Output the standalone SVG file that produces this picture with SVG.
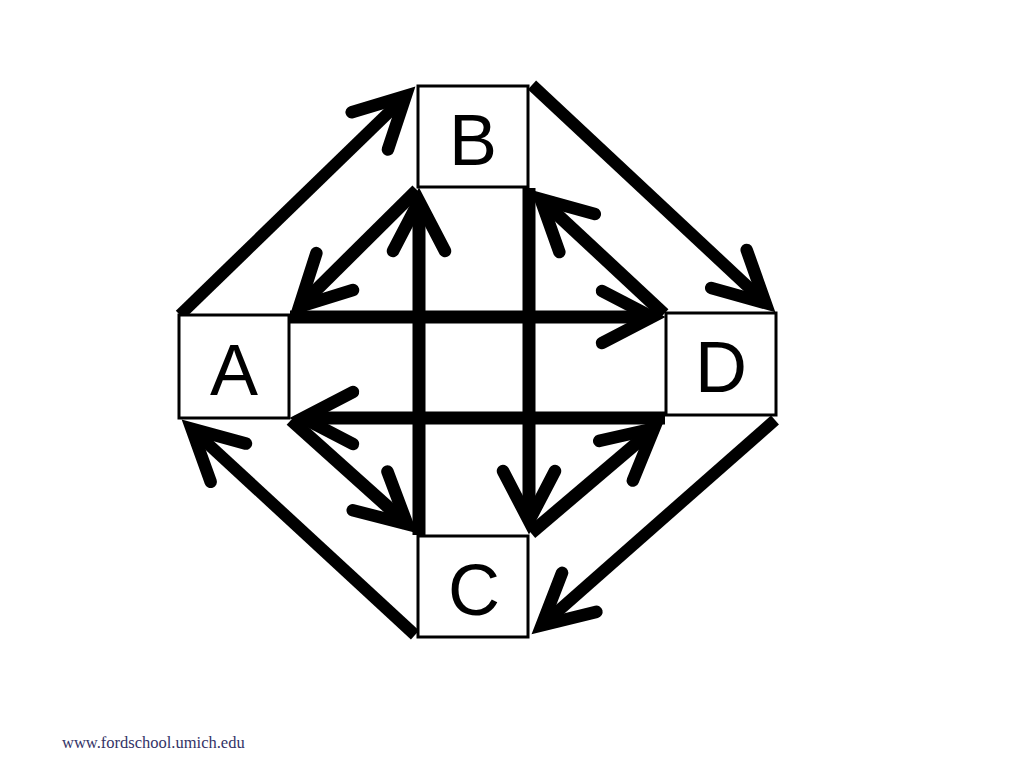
<svg xmlns="http://www.w3.org/2000/svg" width="1024" height="768" viewBox="0 0 1024 768">
<style>
.box{fill:#fff;stroke:#000;stroke-width:3}
.lbl{font-family:"Liberation Sans",Arial,sans-serif;font-size:72px;fill:#000;text-anchor:middle}
.cn{fill:none;stroke:#000;stroke-width:13;marker-end:url(#ah)}
.out{stroke-width:12}
.foot{font-family:"Liberation Serif","Times New Roman",serif;font-size:16.5px;fill:#333366}
</style>
<defs>
<marker id="ah" markerUnits="userSpaceOnUse" viewBox="-80 -50 110 100" markerWidth="110" markerHeight="100" refX="0" refY="0" orient="auto" overflow="visible">
<path d="M-50,-26 L0,0 L-50,26" fill="none" stroke="#000" stroke-width="12.5" stroke-linecap="round" stroke-linejoin="miter"/>
</marker>
</defs>
<rect width="1024" height="768" fill="#fff"/>
<g id="connectors">
<line class="cn out" x1="180" y1="315" x2="405.7" y2="96"/>
<line class="cn out" x1="532" y1="85" x2="765.5" y2="303.1"/>
<line class="cn out" x1="775" y1="420" x2="541.7" y2="625.4"/>
<line class="cn out" x1="415" y1="635" x2="191.6" y2="428.8"/>
<line class="cn" x1="419" y1="535" x2="419" y2="201"/>
<line class="cn" x1="529" y1="188" x2="529" y2="521"/>
<line class="cn" x1="290" y1="317" x2="652" y2="317"/>
<line class="cn" x1="665" y1="418" x2="303" y2="418"/>
<line class="cn" x1="417" y1="190" x2="299.2" y2="306.8"/>
<line class="cn" x1="664" y1="314" x2="540.5" y2="198.9"/>
<line class="cn" x1="291" y1="420" x2="407.3" y2="524.3"/>
<line class="cn" x1="531" y1="533" x2="654.1" y2="428.4"/>
</g>
<g id="A"><rect class="box" x="179" y="315" width="110" height="103"/><text class="lbl" x="234" y="395">A</text></g>
<g id="B"><rect class="box" x="418" y="86" width="110" height="101"/><text class="lbl" x="473" y="165">B</text></g>
<g id="C"><rect class="box" x="418" y="536" width="110" height="101"/><text class="lbl" x="474" y="615">C</text></g>
<g id="D"><rect class="box" x="666" y="313" width="110" height="102"/><text class="lbl" x="721" y="392">D</text></g>
<text class="foot" x="62" y="748">www.fordschool.umich.edu</text>
</svg>
